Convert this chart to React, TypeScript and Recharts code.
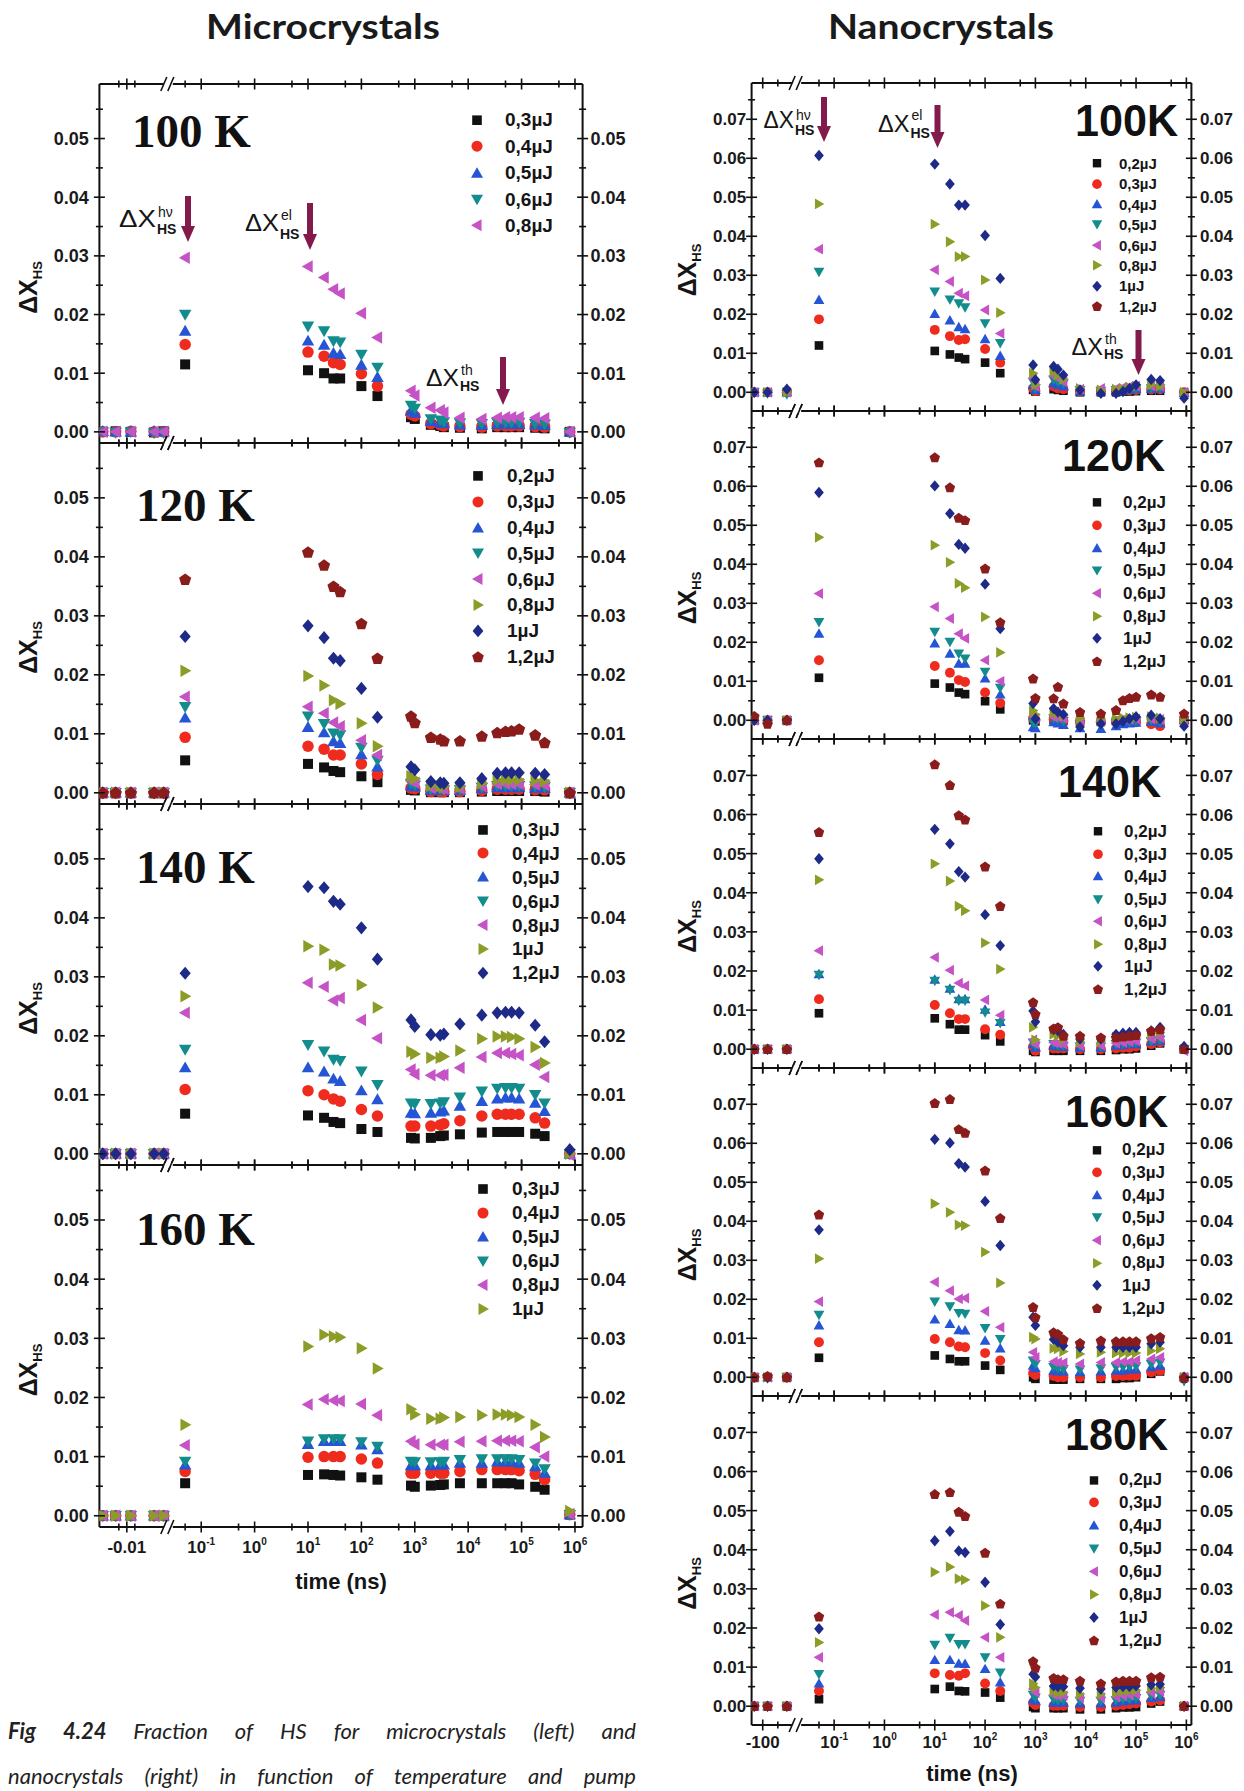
import React from 'react';
import { ScatterChart, Scatter, XAxis, YAxis, Legend } from 'recharts';

// delays read before the axis break (linear stretch), ns
const microPreDelay = [-0.025, -0.017, -0.0075, 0.007, 0.013];
const nanoPreDelay = [-128, -84, -20];
// delays after the break (log stretch), ns
const microDelay = [0.05, 10, 20, 30, 40, 100, 200, 850, 1000, 2000, 3000, 3500, 7000, 18000, 35000, 50000, 65000, 90000, 180000, 270000, 800000];
const nanoDelay = [0.05, 10, 20, 30, 40, 100, 200, 900, 1000, 2300, 2800, 3600, 7700, 20000, 40000, 55000, 74000, 100000, 200000, 300000, 900000];

// tick labels
const decadeTicks = [-1, 0, 1, 2, 3, 4, 5, 6];
const fiveTicks = [-2, -1, 0, 1, 2, 3, 4, 5];
const microPreTicks = [-0.015, -0.01, -0.005];
const nanoPreTicks = [-100, -50];
const microYTicks = [0, 0.01, 0.02, 0.03, 0.04, 0.05];
const microYMinor = [0.005, 0.015, 0.025, 0.035, 0.045, 0.055];
const nanoYTicks = [0, 0.01, 0.02, 0.03, 0.04, 0.05, 0.06, 0.07];
const nanoYMinor = [0.005, 0.015, 0.025, 0.035, 0.045, 0.055, 0.065, 0.075];

// legend labels
const microLabels100 = ['0,3µJ', '0,4µJ', '0,5µJ', '0,6µJ', '0,8µJ'];
const microLabels120 = ['0,2µJ', '0,3µJ', '0,4µJ', '0,5µJ', '0,6µJ', '0,8µJ', '1µJ', '1,2µJ'];
const microLabels140 = ['0,3µJ', '0,4µJ', '0,5µJ', '0,6µJ', '0,8µJ', '1µJ', '1,2µJ'];
const microLabels160 = ['0,3µJ', '0,4µJ', '0,5µJ', '0,6µJ', '0,8µJ', '1µJ'];
const nanoLabels = ['0,2µJ', '0,3µJ', '0,4µJ', '0,5µJ', '0,6µJ', '0,8µJ', '1µJ', '1,2µJ'];

// microcrystals: pre(5) | 50ps | 10..200ns (6) | thermal (13) | last
const mc100_03 = [0, 0.0001, 0, -0.0001, 0.0001, 0.0115, 0.0105, 0.01, 0.0091, 0.0091, 0.0078, 0.0061,
  0.0025, 0.0022, 0.0012, 0.001, 0.0008, 0.0007, 0.0006, 0.0008, 0.0008, 0.0008, 0.0008, 0.0007, 0.0006, 0];
const mc100_04 = [0, 0, 0.0001, 0, 0, 0.0149, 0.0136, 0.0129, 0.0118, 0.0115, 0.0099, 0.0078,
  0.003, 0.0027, 0.0014, 0.0012, 0.001, 0.0009, 0.0008, 0.001, 0.001, 0.001, 0.001, 0.0009, 0.0008, 0];
const mc100_05 = [0.0001, 0, 0, 0.0001, 0, 0.0172, 0.0155, 0.0148, 0.0134, 0.0132, 0.0114, 0.0093,
  0.0036, 0.0032, 0.0018, 0.0016, 0.0014, 0.0012, 0.0011, 0.0013, 0.0013, 0.0013, 0.0013, 0.0012, 0.0011, 0];
const mc100_06 = [0, -0.0001, 0, -0.0002, -0.0001, 0.02, 0.018, 0.0172, 0.0155, 0.0153, 0.0132, 0.011,
  0.0045, 0.004, 0.0022, 0.002, 0.0017, 0.0015, 0.0014, 0.0016, 0.0016, 0.0016, 0.0016, 0.0014, 0.0013, -0.0001];
const mc100_08 = [0, 0, 0, 0, 0, 0.0297, 0.0282, 0.0263, 0.0243, 0.0236, 0.0202, 0.0161,
  0.007, 0.0062, 0.0041, 0.0037, 0.0033, 0.0024, 0.0022, 0.0024, 0.0025, 0.0025, 0.0025, 0.0024, 0.0023, 0];

const mc120_02 = [0, 0, 0, 0, 0, 0.0055, 0.0049, 0.0043, 0.0037, 0.0035, 0.0028, 0.0018,
  0.0005, 0.0004, 0.0001, 0.0001, 0.0001, 0.0001, 0.0002, 0.0003, 0.0003, 0.0003, 0.0003, 0.0003, 0.0002, 0];
const mc120_03 = [0, 0, 0, 0, 0, 0.0094, 0.0079, 0.0074, 0.0064, 0.0064, 0.0049, 0.0031,
  0.0008, 0.0007, 0.0002, 0.0002, 0.0002, 0.0002, 0.0004, 0.0006, 0.0006, 0.0006, 0.0006, 0.0005, 0.0005, 0];
const mc120_04 = [0, 0, 0, 0, 0, 0.0127, 0.0111, 0.0102, 0.0087, 0.0084, 0.0065, 0.0044,
  0.0012, 0.001, 0.0004, 0.0004, 0.0004, 0.0004, 0.0007, 0.0009, 0.0009, 0.0009, 0.0009, 0.0008, 0.0008, 0];
const mc120_05 = [0, 0, 0, 0, 0, 0.0146, 0.013, 0.0117, 0.0101, 0.0098, 0.0077, 0.0055,
  0.0016, 0.0013, 0.0006, 0.0005, 0.0005, 0.0005, 0.0009, 0.0012, 0.0012, 0.0012, 0.0012, 0.0011, 0.001, 0];
const mc120_06 = [0, 0, 0, 0, 0, 0.0163, 0.0146, 0.0135, 0.0119, 0.0113, 0.0089, 0.0064,
  0.002, 0.0017, 0.0008, 0.0007, 0.0007, 0.0007, 0.0011, 0.0015, 0.0015, 0.0015, 0.0015, 0.0014, 0.0013, 0];
const mc120_08 = [0, 0, 0, 0, 0, 0.0207, 0.0198, 0.0182, 0.0157, 0.0151, 0.0118, 0.0079,
  0.0028, 0.0024, 0.0012, 0.0011, 0.001, 0.001, 0.0016, 0.0022, 0.0022, 0.0022, 0.0022, 0.0021, 0.002, 0];
const mc120_1 = [0, 0, 0, 0, 0, 0.0265, 0.0283, 0.0263, 0.0228, 0.0224, 0.0177, 0.0128,
  0.0044, 0.0039, 0.0019, 0.0017, 0.0016, 0.0017, 0.0024, 0.0033, 0.0034, 0.0034, 0.0034, 0.0033, 0.0031, 0];
const mc120_12 = [0, 0, 0, 0, 0, 0.0362, 0.0408, 0.0386, 0.035, 0.0341, 0.0287, 0.0228,
  0.013, 0.0119, 0.0094, 0.0091, 0.0088, 0.0088, 0.0096, 0.0102, 0.0104, 0.0105, 0.0108, 0.0098, 0.0085, 0];

const mc140_03 = [0, 0, 0, 0, 0, 0.0068, 0.0065, 0.0061, 0.0054, 0.0052, 0.0042, 0.0037,
  0.0027, 0.0026, 0.0027, 0.003, 0.0031, 0.0033, 0.0036, 0.0037, 0.0037, 0.0037, 0.0037, 0.0034, 0.003, 0];
const mc140_04 = [0, 0, 0, 0, 0, 0.0109, 0.0107, 0.01, 0.0093, 0.0089, 0.0075, 0.0064,
  0.0047, 0.0047, 0.0047, 0.0049, 0.0051, 0.0056, 0.0064, 0.0067, 0.0067, 0.0067, 0.0067, 0.0061, 0.0052, 0];
const mc140_05 = [0, 0, 0, 0, 0, 0.0146, 0.0146, 0.0139, 0.0127, 0.0123, 0.0107, 0.0092,
  0.0069, 0.0068, 0.0069, 0.0071, 0.0073, 0.0081, 0.0089, 0.0093, 0.0095, 0.0095, 0.0093, 0.0086, 0.0072, 0];
const mc140_06 = [0, 0, 0, 0, 0, 0.0177, 0.0185, 0.0174, 0.016, 0.0158, 0.014, 0.0117,
  0.0086, 0.0085, 0.0085, 0.0086, 0.0088, 0.0096, 0.0106, 0.0111, 0.0112, 0.0112, 0.0111, 0.01, 0.0086, 0];
const mc140_08 = [0, 0, 0, 0, 0, 0.0239, 0.029, 0.0283, 0.026, 0.0264, 0.0227, 0.0196,
  0.0143, 0.0135, 0.0133, 0.0133, 0.0134, 0.0146, 0.0164, 0.0171, 0.0171, 0.0169, 0.0167, 0.0151, 0.013, -0.0002];
const mc140_1 = [0, 0, 0, 0, 0, 0.0267, 0.0352, 0.0346, 0.0321, 0.0319, 0.0286, 0.0248,
  0.0173, 0.0169, 0.0163, 0.0163, 0.0165, 0.0175, 0.0195, 0.0199, 0.0199, 0.0198, 0.0195, 0.0181, 0.0154, 0];
const mc140_12 = [0, 0, 0, 0, 0, 0.0306, 0.0453, 0.0451, 0.0428, 0.0423, 0.0383, 0.033,
  0.0227, 0.0216, 0.0202, 0.0201, 0.0203, 0.022, 0.0235, 0.0239, 0.024, 0.024, 0.0239, 0.0218, 0.019, 0.0007];

const mc160_03 = [0, 0, 0, 0, 0, 0.0055, 0.0069, 0.007, 0.0069, 0.0068, 0.0065, 0.0061,
  0.0051, 0.0049, 0.0051, 0.0052, 0.0053, 0.0055, 0.0055, 0.0055, 0.0055, 0.0055, 0.0053, 0.0049, 0.0044, 0.0002];
const mc160_04 = [0, 0, 0, 0, 0, 0.0075, 0.0099, 0.01, 0.01, 0.01, 0.0096, 0.0089,
  0.0072, 0.0072, 0.0072, 0.0072, 0.0072, 0.0075, 0.0078, 0.0078, 0.0078, 0.0078, 0.0076, 0.007, 0.0061, 0.0002];
const mc160_05 = [0, 0, 0, 0, 0, 0.0086, 0.0121, 0.0126, 0.0126, 0.0126, 0.012, 0.0112,
  0.0085, 0.0085, 0.0085, 0.0086, 0.0086, 0.0089, 0.0089, 0.0091, 0.0091, 0.0091, 0.0089, 0.0083, 0.0072, 0.0002];
const mc160_06 = [0, 0, 0, 0, 0, 0.0092, 0.0126, 0.013, 0.013, 0.013, 0.0125, 0.0117,
  0.0092, 0.0091, 0.0091, 0.0091, 0.0092, 0.0095, 0.0096, 0.0096, 0.0096, 0.0096, 0.0095, 0.0089, 0.0079, 0.0002];
const mc160_08 = [0, 0, 0, 0, 0, 0.0119, 0.0188, 0.0197, 0.0195, 0.0194, 0.0189, 0.017,
  0.0126, 0.0121, 0.012, 0.012, 0.012, 0.0125, 0.0126, 0.0127, 0.0127, 0.0127, 0.0126, 0.0116, 0.01, 0.0003];
const mc160_1 = [0, 0, 0, 0, 0, 0.0154, 0.0286, 0.0306, 0.0303, 0.0302, 0.0283, 0.0249,
  0.018, 0.0171, 0.0164, 0.0164, 0.0166, 0.0167, 0.017, 0.0171, 0.0171, 0.017, 0.0167, 0.0154, 0.0133, 0.0008];

// nanocrystals: pre(3) | 50ps | 10..200ns (6) | thermal (13) | last
const nc100_02 = [0, 0, 0, 0.012, 0.0106, 0.0097, 0.0089, 0.0085, 0.0076, 0.0049,
  0.0006, 0.0002, 0.0008, 0.0006, 0.0004, 0, 0, 0, 0.0002, 0.0002, 0.0003, 0.0004, 0.0004, 0];
const nc100_03 = [0, 0, 0, 0.0187, 0.016, 0.0144, 0.0134, 0.0136, 0.0111, 0.0076,
  0.001, 0.0003, 0.0015, 0.001, 0.0008, 0.0002, 0.0002, 0.0002, 0.0004, 0.0005, 0.0006, 0.0007, 0.0007, 0];
const nc100_04 = [0, 0, 0, 0.0237, 0.0201, 0.0184, 0.0167, 0.0162, 0.0136, 0.0093,
  0.0019, 0.0006, 0.0023, 0.0019, 0.0015, 0.0002, 0.0002, 0.0003, 0.0005, 0.0007, 0.0008, 0.0009, 0.0009, -0.0002];
const nc100_05 = [0, -0.0003, -0.0005, 0.0309, 0.0258, 0.0238, 0.0228, 0.0218, 0.0177, 0.0126,
  0.0027, 0.001, 0.0032, 0.0027, 0.0023, 0.0006, 0.0004, 0.0006, 0.0006, 0.0008, 0.001, 0.001, 0.001, -0.0005];
const nc100_06 = [0, 0, 0, 0.0367, 0.0314, 0.0284, 0.0254, 0.0247, 0.0211, 0.0151,
  0.0036, 0.0015, 0.0042, 0.0036, 0.0027, 0.0008, 0.001, 0.001, 0.0013, 0.0015, 0.0016, 0.0016, 0.0015, 0];
const nc100_08 = [0, 0, 0, 0.0483, 0.0431, 0.0386, 0.0348, 0.0348, 0.0288, 0.0204,
  0.0049, 0.0019, 0.0053, 0.0044, 0.0033, 0.001, 0.0006, 0.0008, 0.001, 0.0013, 0.0016, 0.0019, 0.0016, 0];
const nc100_1 = [0, 0, 0.0008, 0.0607, 0.0585, 0.0534, 0.048, 0.048, 0.0402, 0.0292,
  0.007, 0.0032, 0.0066, 0.0059, 0.0044, 0.0006, -0.0003, -0.0003, 0.0002, 0.001, 0.0019, 0.0033, 0.003, -0.0015];
const nc100_12: number[] = [];

const nc120_02 = [0, 0, 0, 0.0109, 0.0094, 0.0084, 0.0071, 0.0067, 0.0049, 0.0028,
  0, -0.0003, 0.0001, 0, -0.0002, -0.0003, -0.0004, -0.0002, -0.0001, -0.0001, 0, -0.0002, -0.0004, 0];
const nc120_03 = [0, 0, 0, 0.0154, 0.0139, 0.0122, 0.0103, 0.0098, 0.0071, 0.0044,
  0.0003, 0, 0.0002, 0.0001, -0.0002, -0.0004, -0.0005, -0.0003, -0.0002, -0.0002, -0.0005, -0.001, -0.0015, 0];
const nc120_04 = [0, 0, 0, 0.0222, 0.0197, 0.0171, 0.0145, 0.0145, 0.0107, 0.0066,
  -0.0018, -0.002, -0.0005, -0.0008, -0.0012, -0.002, -0.0022, -0.0015, -0.001, -0.0008, -0.0006, -0.0004, -0.0008, 0];
const nc120_05 = [0, 0, 0, 0.0252, 0.0227, 0.0201, 0.0171, 0.0158, 0.0124, 0.0083,
  -0.0005, -0.0008, 0.0005, 0.0003, -0.0002, -0.001, -0.0012, -0.0006, -0.0004, -0.0003, -0.0002, 0, -0.0003, 0];
const nc120_06 = [0, 0, 0, 0.0325, 0.0291, 0.0261, 0.0222, 0.021, 0.0154, 0.01,
  0.001, 0.0005, 0.0008, 0.0008, 0.0005, 0, -0.0002, 0, 0.0002, 0.0002, 0.0003, 0.0003, 0.0002, 0];
const nc120_08 = [0, 0, 0, 0.0469, 0.0449, 0.0405, 0.0351, 0.034, 0.0265, 0.0174,
  0.0025, 0.0015, 0.002, 0.0018, 0.0012, 0.0004, 0.0003, 0.0004, 0.0006, 0.0007, 0.0008, 0.0009, 0.0006, 0];
const nc120_1 = [0, 0, 0, 0.0584, 0.0601, 0.053, 0.0451, 0.0441, 0.0349, 0.0235,
  0.0043, 0.0004, 0.003, 0.0021, 0.0015, -0.0017, -0.0009, -0.0009, -0.0003, 0.0004, 0.0009, 0.0013, 0.0004, -0.0015];
const nc120_12 = [0.0011, -0.0009, 0, 0.0661, 0.0674, 0.0597, 0.0519, 0.0513, 0.0389, 0.0251,
  0.0107, 0.0057, 0.0056, 0.0086, 0.0043, 0.0021, 0.0017, 0.0026, 0.0051, 0.0057, 0.006, 0.0066, 0.006, 0.0017];

const nc140_02 = [0, 0, 0, 0.0092, 0.0079, 0.0064, 0.005, 0.005, 0.0036, 0.002,
  -0.0004, -0.0007, -0.0004, -0.0004, -0.0004, -0.0004, -0.0004, -0.0002, 0, 0, 0.0002, 0.0009, 0.0015, 0];
const nc140_03 = [0, 0, 0, 0.0128, 0.0113, 0.0092, 0.0077, 0.0077, 0.0051, 0.0037,
  0.0007, -0.0004, 0.0002, 0.0002, 0.0002, 0, 0, 0.0002, 0.0004, 0.0004, 0.0007, 0.0013, 0.0017, 0];
const nc140_04 = [0, 0, 0, 0.0192, 0.0178, 0.0155, 0.0128, 0.0128, 0.0101, 0.007,
  0.0013, 0.0004, 0.0009, 0.0007, 0.0006, 0.0004, 0.0004, 0.0009, 0.001, 0.0013, 0.0013, 0.0019, 0.0021, 0];
const nc140_05 = [0, 0, 0, 0.019, 0.0175, 0.0152, 0.0124, 0.0124, 0.0094, 0.0067,
  0.0017, 0.0009, 0.0013, 0.001, 0.0009, 0.0007, 0.0007, 0.0013, 0.0013, 0.0015, 0.0017, 0.0021, 0.0024, 0];
const nc140_06 = [0, 0, 0, 0.0252, 0.0235, 0.0202, 0.0169, 0.0162, 0.0126, 0.0087,
  0.0024, 0.0013, 0.0017, 0.0015, 0.0013, 0.0009, 0.001, 0.0015, 0.0017, 0.0019, 0.0021, 0.0027, 0.003, -0.0004];
const nc140_08 = [0, 0, 0, 0.0433, 0.0474, 0.043, 0.0366, 0.0354, 0.0272, 0.0205,
  0.0056, 0.0024, 0.0038, 0.0034, 0.0026, 0.0019, 0.0021, 0.003, 0.003, 0.0032, 0.0034, 0.004, 0.0043, 0];
const nc140_1 = [0, 0, 0, 0.0487, 0.0562, 0.0525, 0.0454, 0.044, 0.0344, 0.0265,
  0.0098, 0.007, 0.005, 0.0047, 0.0038, 0.0026, 0.0026, 0.0038, 0.0041, 0.0043, 0.0043, 0.0047, 0.0056, 0.0007];
const nc140_12 = [0, 0, 0, 0.0555, 0.0728, 0.0675, 0.0598, 0.0587, 0.0467, 0.0366,
  0.012, 0.009, 0.0053, 0.0056, 0.0034, 0.0034, 0.003, 0.003, 0.0032, 0.0034, 0.0036, 0.0047, 0.0051, 0];

const nc160_02 = [0, 0, 0, 0.005, 0.0056, 0.0047, 0.0041, 0.0041, 0.003, 0.0019,
  0, -0.0004, -0.0006, -0.0006, -0.0006, -0.0004, -0.0004, -0.0004, -0.0002, -0.0002, 0, 0.0009, 0.0015, 0];
const nc160_03 = [0, 0, 0, 0.009, 0.0098, 0.009, 0.0079, 0.0077, 0.0062, 0.0043,
  0.0011, 0.0006, 0.0003, 0, 0, 0, 0, 0.0003, 0.0003, 0.0004, 0.0004, 0.0013, 0.0017, 0];
const nc160_04 = [0, 0, 0, 0.0133, 0.0148, 0.0137, 0.0121, 0.012, 0.0094, 0.0074,
  0.003, 0.0023, 0.0017, 0.0015, 0.0015, 0.0013, 0.0015, 0.0017, 0.0017, 0.002, 0.002, 0.0026, 0.003, 0];
const nc160_05 = [0, -0.0003, 0, 0.016, 0.0194, 0.0182, 0.0165, 0.0163, 0.0126, 0.0098,
  0.0043, 0.0034, 0.0026, 0.0023, 0.0021, 0.002, 0.0023, 0.0026, 0.0026, 0.0028, 0.0028, 0.0034, 0.0038, -0.001];
const nc160_06 = [0, 0, 0, 0.0194, 0.0244, 0.0222, 0.0201, 0.0203, 0.0169, 0.0128,
  0.0064, 0.0051, 0.004, 0.0038, 0.0037, 0.0034, 0.0038, 0.0038, 0.004, 0.004, 0.0043, 0.0047, 0.0051, 0];
const nc160_08 = [0, 0, 0, 0.0304, 0.0445, 0.0423, 0.0391, 0.0389, 0.0321, 0.0242,
  0.0103, 0.0098, 0.0074, 0.0073, 0.0066, 0.006, 0.0064, 0.0062, 0.0062, 0.0062, 0.0062, 0.0068, 0.0073, 0];
const nc160_1 = [0, 0, 0, 0.0378, 0.061, 0.0601, 0.0548, 0.0539, 0.0451, 0.0338,
  0.0154, 0.0133, 0.0097, 0.009, 0.0081, 0.0077, 0.0077, 0.0077, 0.0077, 0.0077, 0.0077, 0.0086, 0.009, 0];
const nc160_12 = [0, 0.0003, 0, 0.0417, 0.0703, 0.0713, 0.0636, 0.0627, 0.053, 0.0408,
  0.018, 0.0154, 0.0115, 0.0111, 0.0097, 0.0088, 0.0094, 0.0092, 0.0092, 0.0092, 0.0092, 0.01, 0.0103, -0.0002];

const nc180_02 = [0, 0, 0, 0.0018, 0.0044, 0.005, 0.0039, 0.0038, 0.0035, 0.0022,
  -0.0002, -0.0005, -0.0005, -0.0005, -0.0005, -0.0008, -0.0008, -0.0005, -0.0003, -0.0003, -0.0002, 0.0007, 0.0012, 0];
const nc180_03 = [0, 0, 0, 0.0039, 0.0084, 0.008, 0.0078, 0.0084, 0.0058, 0.0039,
  0.0009, 0.0003, 0.0001, 0.0001, 0.0001, -0.0002, -0.0002, 0.0001, 0.0003, 0.0005, 0.0007, 0.0012, 0.0015, 0];
const nc180_04 = [0, 0, 0, 0.0058, 0.0118, 0.0118, 0.0109, 0.0108, 0.0095, 0.0061,
  0.0018, 0.0014, 0.0009, 0.0009, 0.0009, 0.0007, 0.0007, 0.0009, 0.0012, 0.0014, 0.0015, 0.0021, 0.0024, 0];
const nc180_05 = [0, 0, 0, 0.0082, 0.0157, 0.0175, 0.0159, 0.0159, 0.0125, 0.0086,
  0.0029, 0.0022, 0.0018, 0.0015, 0.0015, 0.0014, 0.0014, 0.0015, 0.0018, 0.0018, 0.0021, 0.0027, 0.0029, 0];
const nc180_06 = [0, 0, 0, 0.0125, 0.0234, 0.024, 0.0232, 0.0219, 0.0176, 0.0125,
  0.0044, 0.0035, 0.0029, 0.0027, 0.0027, 0.0022, 0.0022, 0.0024, 0.0027, 0.0029, 0.0031, 0.0035, 0.0038, 0];
const nc180_08 = [0, 0, 0, 0.0163, 0.0343, 0.0356, 0.0326, 0.0323, 0.0257, 0.0176,
  0.0058, 0.0048, 0.0039, 0.0035, 0.0035, 0.0031, 0.0031, 0.0035, 0.0038, 0.0039, 0.0041, 0.0046, 0.0048, 0];
const nc180_1 = [0, 0, 0, 0.0198, 0.0423, 0.0447, 0.0397, 0.0393, 0.0317, 0.0209,
  0.0082, 0.0075, 0.0052, 0.005, 0.005, 0.0046, 0.0044, 0.0048, 0.005, 0.005, 0.0052, 0.0055, 0.0056, 0];
const nc180_12 = [0, 0, 0, 0.0229, 0.0542, 0.0547, 0.0497, 0.0486, 0.0392, 0.0262,
  0.0115, 0.0098, 0.0072, 0.0069, 0.0069, 0.0065, 0.0058, 0.0063, 0.0065, 0.0065, 0.0065, 0.0074, 0.0075, 0];

const SANS = '"Liberation Sans", Arial, sans-serif';
const SERIF = '"Liberation Serif", "Times New Roman", serif';
const LATO = 'Lato, "Open Sans", sans-serif';
const COLORS = ['#111111', '#ef2b1e', '#2554d4', '#128c8c', '#c553c6', '#8c9c26', '#1e2a88', '#8a1c1c'];
const ARROW = '#84194c';

function Glyph({ kind, cx, cy, s }: { kind: number; cx: number; cy: number; s: number }) {
  const c = COLORS[kind];
  const h = s / 2;
  if (kind === 0) {
    const a = s * 0.8;
    return <rect x={cx - a / 2} y={cy - a / 2} width={a} height={a} fill={c} />;
  }
  if (kind === 1) return <circle cx={cx} cy={cy} r={h * 0.92} fill={c} />;
  let pts: number[][];
  switch (kind) {
    case 2: pts = [[0, -h], [h, h * 0.75], [-h, h * 0.75]]; break;
    case 3: pts = [[0, h], [h, -h * 0.75], [-h, -h * 0.75]]; break;
    case 4: pts = [[-h, 0], [h * 0.75, -h], [h * 0.75, h]]; break;
    case 5: pts = [[h, 0], [-h * 0.75, -h], [-h * 0.75, h]]; break;
    case 6: pts = [[0, -h * 1.05], [h * 0.9, 0], [0, h * 1.05], [-h * 0.9, 0]]; break;
    default:
      pts = [0, 1, 2, 3, 4].map((k) => {
        const a = (-90 + k * 72) * Math.PI / 180;
        return [h * 1.02 * Math.cos(a), h * 1.02 * Math.sin(a) + h * 0.08];
      });
  }
  return <polygon points={pts.map(([x, y]) => `${cx + x},${cy + y}`).join(' ')} fill={c} />;
}

const MICRO = {
  left: 0, width: 640, axisLeft: 99.4, axisRight: 57.4,
  xDomain: [-2.907, 6.143], yDomain: [-0.0019, 0.0593],
  pre: (t: number) => -2.393 + (t + 0.01) * 30,
  preDelay: microPreDelay, delay: microDelay, preTicks: microPreTicks, preMajor: -0.01, breakAt: -1.607,
  yMajor: microYTicks, yMinor: microYMinor, yFont: 18, yGapL: 10.5, yGapR: 8,
  xFont: 17, xLabelDy: 26, mark: 12.5, legendMark: 12, lastPad: 40,
};
const NANO = {
  left: 640, width: 604, axisLeft: 111.6, axisRight: 52.6,
  xDomain: [-2.64, 6.1], yDomain: [-0.0048, 0.0793],
  pre: (t: number) => -2.419 + (t + 100) * 0.006,
  preDelay: nanoPreDelay, delay: nanoDelay, preTicks: nanoPreTicks, preMajor: -100, breakAt: -1.735,
  yMajor: nanoYTicks, yMinor: nanoYMinor, yFont: 17, yGapL: 5.5, yGapR: 8.5,
  xFont: 17, xLabelDy: 23, mark: 10.8, legendMark: 10.5, lastPad: 36,
};

const microPanels = [
  { top: 84, bottom: 443, labels: microLabels100, series: [mc100_03, mc100_04, mc100_05, mc100_06, mc100_08],
    legend: { symX: 477, textX: 505, firstY: 120, step: 26.4, font: 19 } },
  { top: 443, bottom: 804, labels: microLabels120, series: [mc120_02, mc120_03, mc120_04, mc120_05, mc120_06, mc120_08, mc120_1, mc120_12],
    legend: { symX: 478, textX: 507, firstY: 476, step: 25.8, font: 19 } },
  { top: 804, bottom: 1165, labels: microLabels140, series: [mc140_03, mc140_04, mc140_05, mc140_06, mc140_08, mc140_1, mc140_12],
    legend: { symX: 483, textX: 512, firstY: 829.5, step: 23.9, font: 19 } },
  { top: 1165, bottom: 1527, labels: microLabels160, series: [mc160_03, mc160_04, mc160_05, mc160_06, mc160_08, mc160_1],
    legend: { symX: 483, textX: 512, firstY: 1188.5, step: 24, font: 19 } },
];
const nanoPanels = [
  { top: 83, bottom: 411, labels: nanoLabels, series: [nc100_02, nc100_03, nc100_04, nc100_05, nc100_06, nc100_08, nc100_1, nc100_12],
    legend: { symX: 1097, textX: 1119, firstY: 163.5, step: 20.4, font: 15 } },
  { top: 411, bottom: 739, labels: nanoLabels, series: [nc120_02, nc120_03, nc120_04, nc120_05, nc120_06, nc120_08, nc120_1, nc120_12],
    legend: { symX: 1097, textX: 1123, firstY: 502.7, step: 22.7, font: 17 } },
  { top: 739, bottom: 1068, labels: nanoLabels, series: [nc140_02, nc140_03, nc140_04, nc140_05, nc140_06, nc140_08, nc140_1, nc140_12],
    legend: { symX: 1098, textX: 1124, firstY: 831.7, step: 22.5, font: 17 } },
  { top: 1068, bottom: 1396, labels: nanoLabels, series: [nc160_02, nc160_03, nc160_04, nc160_05, nc160_06, nc160_08, nc160_1, nc160_12],
    legend: { symX: 1097, textX: 1122, firstY: 1150, step: 22.6, font: 17 } },
  { top: 1396, bottom: 1725, labels: nanoLabels, series: [nc180_02, nc180_03, nc180_04, nc180_05, nc180_06, nc180_08, nc180_1, nc180_12],
    legend: { symX: 1094, textX: 1119, firstY: 1480, step: 22.9, font: 17 } },
];

function buildXTicks(col: any) {
  const list: any[] = [];
  col.preTicks.forEach((t: number) =>
    list.push({ pos: col.pre(t), kind: t === col.preMajor ? 'major' : 'minor', label: t === col.preMajor ? String(t) : null }));
  list.push({ pos: col.breakAt, kind: 'break' });
  decadeTicks.forEach((n) => list.push({ pos: n, kind: 'major', exp: n }));
  fiveTicks.forEach((n) => list.push({ pos: n + Math.log10(5), kind: 'minor' }));
  return list;
}

function xTick(col: any, list: any[], where: string, labels: boolean) {
  return (p: any) => {
    const t = list.find((k) => Math.abs(k.pos - p.payload.value) < 1e-6);
    const x = p.x;
    const y = p.y;
    if (!t) return <g />;
    if (t.kind === 'break') {
      return (
        <g>
          <rect x={x - 5} y={y - 2} width={9} height={4} fill="#fff" />
          <line x1={x - 8} y1={y + 7} x2={x - 2} y2={y - 7} stroke="#111" strokeWidth={1.6} />
          <line x1={x - 1} y1={y + 7} x2={x + 5} y2={y - 7} stroke="#111" strokeWidth={1.6} />
        </g>
      );
    }
    const len = t.kind === 'minor' ? 3.5 : 5.5;
    let label = null;
    if (labels && where === 'bottom' && t.kind === 'major') {
      label = t.label != null ? (
        <text x={x} y={y + col.xLabelDy} textAnchor="middle" fontSize={col.xFont} fontWeight={700} fontFamily={SANS} fill="#1a1a1a">{t.label}</text>
      ) : (
        <text x={x} y={y + col.xLabelDy} textAnchor="middle" fontSize={col.xFont} fontWeight={700} fontFamily={SANS} fill="#1a1a1a">
          10<tspan dy={-8} fontSize={10}>{t.exp}</tspan>
        </text>
      );
    }
    return (
      <g>
        <line x1={x} x2={x} y1={y - len} y2={y + len} stroke="#111" strokeWidth={1.6} />
        {label}
      </g>
    );
  };
}

function yTick(col: any, side: string) {
  return (p: any) => {
    const v = p.payload.value;
    const major = col.yMajor.some((m: number) => Math.abs(m - v) < 1e-9);
    const len = major ? 5.5 : 3.5;
    return (
      <g>
        <line x1={p.x - len} x2={p.x + len} y1={p.y} y2={p.y} stroke="#111" strokeWidth={1.6} />
        {major && (
          <text x={side === 'left' ? p.x - col.yGapL : p.x + col.yGapR} y={p.y} dy="0.36em"
            textAnchor={side === 'left' ? 'end' : 'start'} fontSize={col.yFont} fontWeight={700} fontFamily={SANS} fill="#1a1a1a">
            {v.toFixed(2)}
          </text>
        )}
      </g>
    );
  };
}

function toPoints(col: any, vals: number[]) {
  const n = col.preDelay.length;
  return vals.map((v, i) => ({
    x: i < n ? col.pre(col.preDelay[i]) : Math.log10(col.delay[i - n]),
    y: v,
  }));
}

function Panel({ col, p, last }: { col: any; p: any; last: boolean }) {
  const topPad = 12;
  const bottomPad = last ? col.lastPad : 12;
  const height = p.bottom - p.top + topPad + bottomPad;
  const chartTop = p.top - topPad;
  const list = buildXTicks(col);
  const xt = list.map((t) => t.pos);
  const yt = [...col.yMajor, ...col.yMinor];
  const lg = p.legend;
  const axisLine = { stroke: '#111', strokeWidth: 2 };
  return (
    <div style={{ position: 'absolute', left: col.left, top: chartTop }}>
      <ScatterChart width={col.width} height={height} margin={{ top: 0, right: 0, bottom: 0, left: 0 }}>
        <XAxis xAxisId="b" type="number" dataKey="x" domain={col.xDomain} allowDataOverflow ticks={xt} interval={0}
          tick={xTick(col, list, 'bottom', last)} tickLine={false} tickSize={0} tickMargin={0} axisLine={axisLine} height={bottomPad} />
        <XAxis xAxisId="t" orientation="top" type="number" dataKey="x" domain={col.xDomain} allowDataOverflow ticks={xt} interval={0}
          tick={xTick(col, list, 'top', false)} tickLine={false} tickSize={0} tickMargin={0} axisLine={axisLine} height={topPad} />
        <YAxis yAxisId="l" type="number" dataKey="y" domain={col.yDomain} allowDataOverflow ticks={yt} interval={0}
          tick={yTick(col, 'left')} tickLine={false} tickSize={0} tickMargin={0} axisLine={axisLine} width={col.axisLeft} />
        <YAxis yAxisId="r" orientation="right" type="number" dataKey="y" domain={col.yDomain} allowDataOverflow ticks={yt} interval={0}
          tick={yTick(col, 'right')} tickLine={false} tickSize={0} tickMargin={0} axisLine={axisLine} width={col.axisRight} />
        <Legend layout="vertical" align="center" verticalAlign="middle"
          wrapperStyle={{ left: lg.symX - col.left - 8, top: lg.firstY - chartTop - lg.step / 2, width: 'auto', height: 'auto' }}
          content={() => (
            <div>
              {p.labels.map((label: string, i: number) => (
                <div key={label} style={{ display: 'flex', alignItems: 'center', height: lg.step }}>
                  <svg width={16} height={lg.step} style={{ display: 'block' }}>
                    <Glyph kind={i} cx={8} cy={lg.step / 2} s={col.legendMark} />
                  </svg>
                  <span style={{ marginLeft: lg.textX - lg.symX - 8, fontFamily: SANS, fontWeight: 700, fontSize: lg.font, color: '#151515', lineHeight: 1, whiteSpace: 'nowrap' }}>
                    {label}
                  </span>
                </div>
              ))}
            </div>
          )}
        />
        {p.series.map((vals: number[], i: number) => (
          <Scatter key={i} name={p.labels[i]} xAxisId="b" yAxisId="l" data={toPoints(col, vals)} fill={COLORS[i]}
            isAnimationActive={false}
            shape={(s: any) => <Glyph kind={i} cx={s.cx} cy={s.cy} s={col.mark} />} />
        ))}
      </ScatterChart>
    </div>
  );
}

function Arrow({ x, y1, y2 }: { x: number; y1: number; y2: number }) {
  const head = 16;
  return (
    <g fill={ARROW}>
      <rect x={x - 3} y={y1} width={6} height={y2 - y1 - head + 1} />
      <polygon points={`${x - 7},${y2 - head} ${x + 7},${y2 - head} ${x},${y2}`} />
    </g>
  );
}

function DeltaX({ x, y, w, sup, supY, subY, size }: any) {
  return (
    <g fill="#151515" fontFamily={SANS}>
      <text x={x} y={y} fontSize={size} textLength={w} lengthAdjust="spacingAndGlyphs">ΔX</text>
      <text x={x + w + 2} y={supY} fontSize={14}>{sup}</text>
      <text x={x + w + 1} y={subY} fontSize={14} fontWeight={700}>HS</text>
    </g>
  );
}

const microTemps = [
  { t: '100 K', x: 132, y: 147 }, { t: '120 K', x: 136, y: 521 },
  { t: '140 K', x: 136, y: 883 }, { t: '160 K', x: 136, y: 1245 },
];
const nanoTemps = [
  { t: '100K', x: 1178, y: 136 }, { t: '120K', x: 1165, y: 471 }, { t: '140K', x: 1161, y: 797 },
  { t: '160K', x: 1168, y: 1127 }, { t: '180K', x: 1168, y: 1450 },
];

function AxisTitle({ x, y }: { x: number; y: number }) {
  return (
    <text transform={`translate(${x},${y}) rotate(-90)`} textAnchor="middle" fontFamily={SANS} fontWeight={700} fontSize={25} fill="#151515">
      ΔX<tspan fontSize={13} dy={5}>HS</tspan>
    </text>
  );
}

const captionLine1 = ['Fraction', 'of', 'HS', 'for', 'microcrystals', '(left)', 'and'];
const captionLine2 = ['nanocrystals', '(right)', 'in', 'function', 'of', 'temperature', 'and', 'pump'];

export default function App() {
  const lineStyle: React.CSSProperties = {
    position: 'absolute', left: 8, width: 628, display: 'flex', justifyContent: 'space-between',
    fontFamily: LATO, fontStyle: 'italic', fontSize: 22, lineHeight: '24px', color: '#222', whiteSpace: 'nowrap',
  };
  return (
    <div style={{ position: 'relative', width: 1244, height: 1791, overflow: 'hidden', background: '#fff' }}>
      <style>{'body{margin:0;}'}</style>
      {microPanels.map((p, i) => (
        <Panel key={`m${i}`} col={MICRO} p={p} last={i === microPanels.length - 1} />
      ))}
      {nanoPanels.map((p, i) => (
        <Panel key={`n${i}`} col={NANO} p={p} last={i === nanoPanels.length - 1} />
      ))}
      <svg width={1244} height={1791} style={{ position: 'absolute', left: 0, top: 0, pointerEvents: 'none' }}>
        <text x={206} y={39} fontFamily={LATO} fontWeight={700} fontSize={35} textLength={234} lengthAdjust="spacingAndGlyphs" fill="#1a1a1a">Microcrystals</text>
        <text x={828} y={39} fontFamily={LATO} fontWeight={700} fontSize={35} textLength={226} lengthAdjust="spacingAndGlyphs" fill="#1a1a1a">Nanocrystals</text>
        {microPanels.map((p, i) => <AxisTitle key={`am${i}`} x={37} y={(p.top + p.bottom) / 2 + 24} />)}
        {nanoPanels.map((p, i) => <AxisTitle key={`an${i}`} x={696} y={(p.top + p.bottom) / 2 + 23} />)}
        {microTemps.map((t) => (
          <text key={t.t} x={t.x} y={t.y} fontFamily={SERIF} fontWeight={700} fontSize={47} fill="#111">{t.t}</text>
        ))}
        {nanoTemps.map((t) => (
          <text key={t.t} x={t.x} y={t.y} textAnchor="end" fontFamily={SANS} fontWeight={700} fontSize={44} textLength={103} lengthAdjust="spacingAndGlyphs" fill="#111">{t.t}</text>
        ))}
        <Arrow x={188} y1={196} y2={242} />
        <Arrow x={310} y1={203} y2={250} />
        <Arrow x={503} y1={357} y2={405} />
        <DeltaX x={119} y={227} w={37} sup="hν" supY={217} subY={234} size={24} />
        <DeltaX x={245} y={231} w={34} sup="el" supY={220} subY={239} size={24} />
        <DeltaX x={426} y={386} w={33} sup="th" supY={375} subY={391} size={24} />
        <Arrow x={824} y1={97} y2={142} />
        <Arrow x={937.5} y1={105} y2={148} />
        <Arrow x={1138.5} y1={330} y2={375} />
        <DeltaX x={763.5} y={128} w={30.5} sup="hν" supY={120} subY={135} size={23} />
        <DeltaX x={878} y={131.5} w={31.5} sup="el" supY={120} subY={138} size={23} />
        <DeltaX x={1071.5} y={355} w={31.5} sup="th" supY={344} subY={359} size={23} />
        <text x={341} y={1589} textAnchor="middle" fontFamily={SANS} fontWeight={700} fontSize={22} fill="#151515">time (ns)</text>
        <text x={972} y={1781} textAnchor="middle" fontFamily={SANS} fontWeight={700} fontSize={22} fill="#151515">time (ns)</text>
      </svg>
      <div style={{ ...lineStyle, top: 1719 }}>
        <span style={{ fontWeight: 700 }}>Fig</span>
        <span style={{ fontWeight: 700 }}>4.24</span>
        {captionLine1.map((w, i) => <span key={i}>{w}</span>)}
      </div>
      <div style={{ ...lineStyle, top: 1764 }}>
        {captionLine2.map((w, i) => <span key={i}>{w}</span>)}
      </div>
    </div>
  );
}
